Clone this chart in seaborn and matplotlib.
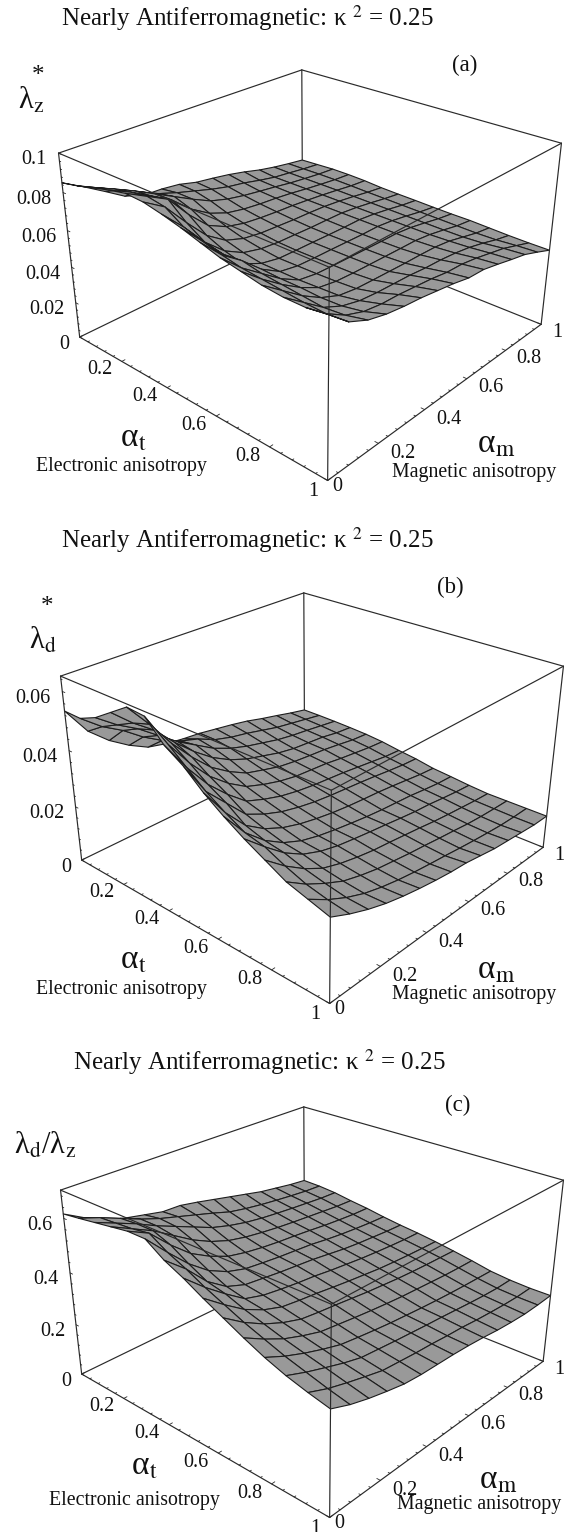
import numpy as np
import matplotlib
matplotlib.use("Agg")
import matplotlib.pyplot as plt
import seaborn as sns

sns.set_theme(style="white")
plt.rcParams['font.family'] = ['Liberation Serif', 'DejaVu Serif']
plt.rcParams['mathtext.fontset'] = 'stix'

W, H = 571, 1532

alpha_t = [0, .0714, .1429, .2143, .2857, .3571, .4286, .5, .5714, .6429, .7143, .7857, .8571, .9286, 1]
alpha_m = [0, .0714, .1429, .2143, .2857, .3571, .4286, .5, .5714, .6429, .7143, .7857, .8571, .9286, 1]

# rows follow alpha_t, columns follow alpha_m; values in units of 1e-3
lambda_z = [
    [85, 79, 72.6, 66, 62.5, 62, 60.7, 58, 56.5, 54.8, 52.6, 50, 48, 46.4, 45],
    [87, 82, 77, 72, 67, 63.5, 60.5, 57.5, 55, 53.3, 51, 49, 47.8, 46.5, 45.5],
    [89.5, 85, 80, 74.5, 69, 63.5, 58.5, 55.5, 53.5, 52, 50.6, 49, 47.8, 46.7, 46],
    [92, 87, 81, 75, 66, 59.5, 55.5, 53.5, 52.3, 51.5, 50.4, 49, 47.8, 46.7, 46],
    [94, 88.5, 83, 71, 61, 56, 53.5, 52.3, 51.5, 50.9, 50, 49, 47.8, 46.5, 45.7],
    [93.5, 87, 75, 64, 57, 53.5, 52, 51.4, 50.8, 50.5, 50, 49, 47.7, 46.2, 45],
    [91.5, 81, 69, 60, 54.5, 52, 51, 50.7, 50.3, 50.2, 50, 49, 47.6, 46, 44.7],
    [89, 78, 67, 57.5, 53, 51, 50.7, 50.5, 50.2, 50, 50, 49, 47.5, 45.8, 44.5],
    [86, 75.5, 68, 59, 53, 51.2, 50.8, 50.6, 50.3, 50, 50, 49, 47.4, 45.6, 44.2],
    [83, 73.5, 66, 58.5, 53, 51.4, 51, 50.7, 50.4, 50.1, 50, 49, 47.3, 45.4, 44],
    [81, 72.5, 65, 58.5, 53.5, 51.8, 51.2, 50.9, 50.6, 50.3, 50.1, 49, 47.2, 45.2, 44],
    [79, 71.5, 64, 58, 54, 52.5, 52, 51.6, 51.2, 51, 50.6, 49.4, 47.2, 45, 43.6],
    [78, 70.5, 63, 58.5, 56, 55, 54.5, 54, 53, 52.5, 51.5, 50, 47.8, 45.2, 43.2],
    [78, 70, 64, 60.5, 59, 58.5, 57.5, 56.5, 55, 54.5, 53, 51, 49, 46, 43],
    [79.5, 71, 66.5, 64, 62.5, 61.5, 60, 58.5, 56.5, 56, 54, 51.8, 49.8, 46.5, 43],
]
lambda_d = [
    [53.5, 44, 38, 33.5, 30, 28.5, 27.6, 27, 26, 25, 23.8, 22.2, 20.8, 19.3, 18],
    [53.4, 48, 44, 39, 35, 32, 30, 27, 25.2, 24, 22.5, 21, 20, 19, 18],
    [56, 51, 47, 42, 37, 33, 29, 26.2, 24.2, 22.7, 21.2, 20.2, 19.5, 18.7, 17.9],
    [60, 54, 49, 42, 36, 31, 27.3, 24.7, 23, 21.3, 20.2, 19.7, 19.2, 18.2, 17.7],
    [64, 56, 47, 39.5, 33, 28.5, 25, 23.2, 21.5, 20.6, 20, 19.5, 18.7, 17.8, 17.4],
    [63.5, 52, 43, 35.5, 30, 25.8, 23.5, 21.7, 20.5, 20, 19.5, 18.6, 17.9, 17.2, 16.8],
    [57, 47, 38.5, 32, 26.5, 24, 22, 20.7, 19.8, 19.2, 18.6, 17.8, 17, 16.2, 15.8],
    [53, 42, 35, 28, 24.8, 22.4, 20.8, 19.6, 18.8, 18.2, 17.6, 16.9, 16.1, 15.4, 15],
    [47.5, 38, 30.5, 26, 23, 21, 19.6, 18.5, 17.7, 17.1, 16.6, 15.9, 15.1, 14.3, 13.8],
    [43, 34.5, 28.5, 24.3, 21.5, 19.8, 18.6, 17.6, 16.7, 16, 15.5, 15, 14.2, 13.5, 13.2],
    [39, 33, 27.5, 23.5, 21, 19.4, 18.4, 17.5, 16.7, 15.8, 15, 14.5, 13.7, 13, 12.5],
    [35.5, 30, 25.5, 22, 20, 18.6, 17.5, 16.8, 16, 15.2, 14.3, 13.6, 13, 12.4, 12],
    [32, 27.5, 24, 21, 19.2, 17.8, 16.9, 16, 15.3, 14.5, 13.8, 13, 12.5, 12.2, 12],
    [30, 26, 22.8, 20.3, 18.6, 17.3, 16.3, 15.5, 14.8, 14, 13.3, 12.7, 12.2, 12, 12],
    [28, 25, 22.5, 20.5, 19, 17.8, 16.8, 16, 15.5, 14.5, 13.5, 13, 12.5, 12, 12],
]
lambda_ratio = [
    [616, 575, 540, 520, 505, 490, 488, 475, 460, 445, 430, 415, 405, 395, 388],
    [625, 600, 570, 540, 515, 495, 475, 455, 433, 420, 410, 402, 395, 389, 386],
    [635, 605, 575, 540, 510, 480, 450, 430, 415, 405, 398, 392, 387, 382, 380],
    [645, 610, 575, 530, 485, 450, 425, 410, 400, 392, 386, 381, 376, 371, 369],
    [655, 620, 550, 490, 450, 420, 405, 395, 388, 383, 377, 370, 365, 361, 360],
    [655, 580, 510, 455, 420, 400, 392, 385, 380, 375, 366, 359, 354, 350, 348],
    [610, 550, 475, 425, 400, 392, 384, 378, 372, 363, 354, 348, 344, 340, 338],
    [578, 515, 460, 410, 390, 380, 372, 366, 357, 350, 343, 338, 334, 331, 330],
    [540, 485, 435, 400, 377, 368, 361, 352, 344, 337, 330, 326, 323, 321, 320],
    [505, 455, 415, 385, 363, 354, 347, 339, 331, 325, 319, 315, 312, 310, 308],
    [470, 430, 395, 370, 349, 340, 331, 323, 316, 310, 306, 302, 298, 296, 295],
    [438, 405, 378, 355, 335, 325, 316, 308, 302, 296, 291, 287, 284, 282, 280],
    [412, 385, 362, 340, 322, 315, 308, 302, 296, 291, 285, 279, 274, 271, 272],
    [392, 365, 345, 327, 310, 304, 298, 294, 288, 284, 277, 272, 268, 266, 268],
    [375, 348, 328, 312, 298, 292, 290, 288, 284, 278, 270, 265, 262, 264, 268],
]

z_max = [0.1, 0.065, 0.7]
z_ticks = [[0, .02, .04, .06, .08, .1], [0, .02, .04, .06], [0, .2, .4, .6]]
z_ticklabels = [['0', '0.02', '0.04', '0.06', '0.08', '0.1'], ['0', '0.02', '0.04', '0.06'], ['0', '0.2', '0.4', '0.6']]
xy_ticks = [0, .2, .4, .6, .8, 1]
xy_ticklabels = ['0', '0.2', '0.4', '0.6', '0.8', '1']
title_text = r"Nearly Antiferromagnetic: κ $^{2}$ = 0.25"
panel_tags = ['(a)', '(b)', '(c)']
z_titles = [r"λ$_{\mathrm{z}}$", r"λ$_{\mathrm{d}}$", r"λ$_{\mathrm{d}}$/λ$_{\mathrm{z}}$"]
star_text = ['*', '*', '']

surfaces = [lambda_z, lambda_d, lambda_ratio]
# panel layout in pixels
centres = [(305, 251), (307, 774), (307, 1288)]
titles_xy = [(61, 18), (61, 540), (73, 1062)]
tags_xy = [(452, 65), (437, 587), (445, 1105)]
ztitle_xy = [(18, 101), (29, 641), (14, 1146)]
star_xy = [(32, 76), (41, 607), (0, 0)]
at_xy = [(120, 438), (120, 960), (131, 1466)]
am_xy = [(477, 444), (477, 970), (479, 1480)]
el_xy = [(36, 467), (36, 990), (49, 1500)]
ma_xy = [(392, 472), (392, 995), (397, 1504)]

LC = '#2a2a2a'
S = 571
fig = plt.figure(figsize=(W / 100, H / 100), dpi=100, facecolor='white')


def ftext(xy, s, **kw):
    fig.text(xy[0] / W, 1 - xy[1] / H, s, va='center', ha='left', color='#111111', **kw)


for i in range(3):
    cx, cy = centres[i]
    ax = fig.add_axes([(cx - S / 2) / W, 1 - (cy + S / 2) / H, S / W, S / H], projection='3d',
                      computed_zorder=False, proj_type='persp', focal_length=0.35)
    ax.patch.set_alpha(0)
    zm = z_max[i]
    ax.set_xlim(0, 1, view_margin=0)
    ax.set_ylim(0, 1, view_margin=0)
    ax.set_zlim(0, zm, view_margin=0)
    ax.set_box_aspect((1, 1, .6), zoom=.89)
    ax.view_init(elev=27, azim=-48)
    ax.set_xticks([]); ax.set_yticks([]); ax.set_zticks([])
    ax.set_axis_off()
    for a in (ax.xaxis, ax.yaxis, ax.zaxis):
        a.set_visible(False)

    T, M = np.meshgrid(alpha_t, alpha_m, indexing='ij')
    Z = np.array(surfaces[i], dtype=float) * 1e-3
    ax.plot_surface(T, M, Z, color='#999999', edgecolor='#1c1c1c', linewidth=.8, shade=False,
                    rcount=15, ccount=15, zorder=2)

    def seg(a, b, z):
        ax.plot([a[0], b[0]], [a[1], b[1]], [a[2], b[2]], color=LC, lw=.85, zorder=z, solid_capstyle='round')

    # behind the surface
    seg((0, 1, 0), (0, 1, zm), 1)
    seg((0, 0, 0), (0, 1, 0), 1)
    seg((0, 1, 0), (1, 1, 0), 1)
    seg((0, 0, zm), (0, 1, zm), 1)
    seg((0, 1, zm), (1, 1, zm), 1)
    # in front of it
    seg((0, 0, 0), (0, 0, zm), 3)
    seg((1, 1, 0), (1, 1, zm), 3)
    seg((1, 0, 0), (1, 0, zm), 3)
    seg((0, 0, zm), (1, 0, zm), 3)
    seg((1, 0, zm), (1, 1, zm), 3)
    seg((0, 0, 0), (1, 0, 0), 3)
    seg((1, 0, 0), (1, 1, 0), 3)

    # minor and major ticks
    for k in range(0, 26):
        v = k / 25
        L = .012 if k % 5 == 0 else .006
        ax.plot([v, v], [0, L], [0, 0], color=LC, lw=.6, zorder=3)
        ax.plot([1, 1 - L], [v, v], [0, 0], color=LC, lw=.6, zorder=3)
    nz = int(round(zm / (z_ticks[i][1]) * 5))
    for k in range(nz + 1):
        v = k * z_ticks[i][1] / 5
        if v <= zm:
            L = .012 if k % 5 == 0 else .006
            ax.plot([0, L], [0, 0], [v, v], color=LC, lw=.6, zorder=3)

    for v, s in zip(xy_ticks, xy_ticklabels):
        if v > 0:
            ax.text(v, -.035, -.02 * zm, s, ha='right', va='center', fontsize=14.5, color='#111111', zorder=4)
        ax.text(1 + (.04 if v > 0 else .015), v, -.02 * zm, s, ha='left', va='center', fontsize=14.5,
                color='#111111', zorder=4)
    for v, s in zip(z_ticks[i], z_ticklabels[i]):
        ax.text(0, -.04, v - .012 * zm, s, ha='right', va='center', fontsize=14.5, color='#111111', zorder=4)

    ftext(titles_xy[i], title_text, fontsize=18)
    ftext(tags_xy[i], panel_tags[i], fontsize=16.5)
    ftext(ztitle_xy[i], z_titles[i], fontsize=22)
    if star_text[i]:
        ftext(star_xy[i], star_text[i], fontsize=18)
    ftext(at_xy[i], r"α$_{\mathrm{t}}$", fontsize=24)
    ftext(am_xy[i], r"α$_{\mathrm{m}}$", fontsize=24)
    ftext(el_xy[i], "Electronic anisotropy", fontsize=14.3)
    ftext(ma_xy[i], "Magnetic anisotropy", fontsize=14.3)

fig.savefig("out.png", dpi=100, facecolor='white')
